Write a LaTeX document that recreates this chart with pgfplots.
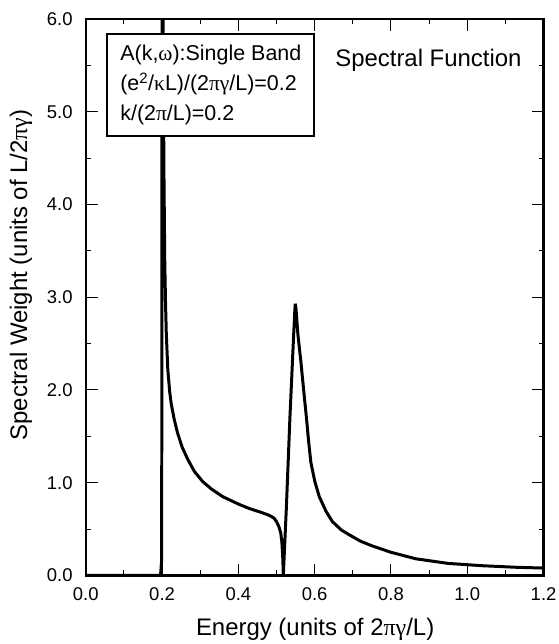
\documentclass[border=0pt]{standalone}
\usepackage{fontspec}
\setmainfont{Liberation Sans}
\newfontfamily\grk{Liberation Serif}
\usepackage{pgfplots}
\usepackage{pgfplotstable}
\pgfplotsset{compat=1.18}

% spectral weight
\pgfplotstableread{
x y
0.000 0.000
0.196 0.000
0.199 0.170
0.2000 7.000
0.2015 7.000
0.203 5.600
0.205 4.300
0.207 3.400
0.209 2.950
0.211 2.620
0.215 2.220
0.220 1.980
0.224 1.850
0.232 1.680
0.241 1.530
0.253 1.380
0.2675 1.250
0.285 1.120
0.307 1.010
0.330 0.930
0.359 0.850
0.400 0.770
0.430 0.720
0.460 0.680
0.480 0.650
0.493 0.620
0.500 0.580
0.506 0.530
0.511 0.460
0.514 0.360
0.5165 0.180
0.5178 0.000
0.526 0.750
0.535 1.690
0.542 2.330
0.5475 2.820
0.549 2.930
0.551 2.880
0.556 2.600
0.564 2.300
0.5735 1.900
0.5787 1.690
0.584 1.450
0.590 1.220
0.600 1.020
0.612 0.850
0.630 0.690
0.6466 0.580
0.670 0.490
0.690 0.440
0.720 0.370
0.750 0.320
0.800 0.250
0.865 0.180
0.950 0.130
1.040 0.105
1.130 0.088
1.200 0.080
}\spectral

\begin{document}
\begin{tikzpicture}
\begin{axis}[
  scale only axis,
  width=459pt, height=558pt,
  xmin=0, xmax=1.2, ymin=0, ymax=6,
  xtick={0,0.2,0.4,0.6,0.8,1.0,1.2},
  ytick={0,1,2,3,4,5,6},
  minor x tick num=1, minor y tick num=1,
  tick align=inside,
  major tick length=12pt, minor tick length=5pt,
  every tick/.style={black, line width=1pt},
  axis line style={line width=2.5pt},
  /pgf/number format/fixed,
  /pgf/number format/fixed zerofill,
  /pgf/number format/precision=1,
  /pgf/number format/assume math mode=true,
  tick label style={font=\fontsize{18.5}{20}\selectfont},
  x tick label style={inner sep=0pt, yshift=-12pt},
  y tick label style={inner sep=0pt, xshift=-13pt},
  label style={font=\fontsize{24}{26}\selectfont},
  xlabel={Energy (units of 2{\grk πγ}/L)},
  ylabel={Spectral Weight (units of L/2{\grk πγ})},
  xlabel style={at={(axis description cs:0.501,-0.097)}, anchor=center},
  ylabel style={at={(axis description cs:-0.1416,0.54)}, anchor=center},
]
\addplot[black, line width=3pt, miter limit=4] table {\spectral};

\node[draw, fill=white, line width=2pt, anchor=north west, align=left,
      inner xsep=13pt, inner ysep=11pt, font=\fontsize{21.5}{30}\selectfont]
  at (axis cs:0.054,5.846)
  {A(k,{\grk ω}):Single Band\\(e\textsuperscript{2}/{\grk κ}L)/(2{\grk πγ}/L)=0.2\\k/(2{\grk π}/L)=0.2};
\node[anchor=west, inner sep=0pt, font=\fontsize{24}{26}\selectfont]
  at (axis cs:0.6536,5.559) {Spectral Function};

\coordinate (ll) at (rel axis cs:0,0);
\coordinate (ur) at (rel axis cs:1,1);
\end{axis}
\path ([shift={(-86pt,-67pt)}]ll) rectangle ([shift={(15pt,19pt)}]ur);
\end{tikzpicture}
\end{document}
